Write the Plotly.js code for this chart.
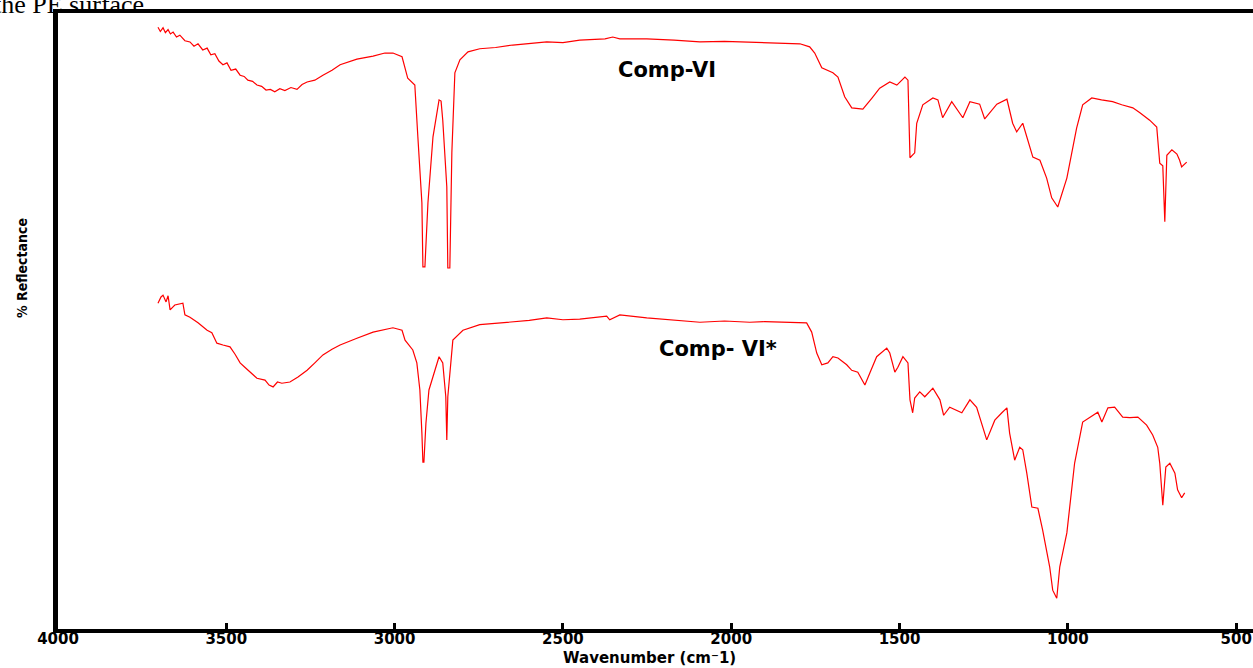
<!DOCTYPE html>
<html>
<head>
<meta charset="utf-8">
<script src="https://cdn.plot.ly/plotly-3.0.1.min.js"></script>
<style>html,body{margin:0;padding:0;background:#fff;}#chart{width:1253px;height:668px;}</style>
</head>
<body>
<div id="chart"></div>
<script>
// Comp-VI (upper spectrum)
const wnCompVI = [3703,3696,3688,3681,3673,3666,3658,3648,3638,3623,3608,3596,3584,3570,3557,3546,3534,3522,3510,3498,3486,3472,3459,3447,3436,3422,3409,3395,3382,3369,3356,3341,3326,3308,3290,3275,3260,3237,3213,3186,3162,3112,3064,3029,3005,2978,2961,2940,2931,2919,2916,2910,2901,2886,2868,2862,2857,2845,2842,2836,2830,2821,2806,2782,2747,2700,2649,2600,2548,2500,2450,2375,2352,2331,2251,2170,2093,2020,1945,1900,1856,1796,1767,1752,1731,1698,1683,1663,1642,1609,1582,1559,1529,1508,1484,1475,1469,1455,1449,1431,1401,1386,1372,1345,1312,1291,1262,1247,1211,1181,1164,1152,1134,1104,1083,1063,1048,1030,1003,974,956,929,900,867,840,807,786,757,736,727,718,712,706,691,676,668,662,647];
const rCompVI = [97.7,97.0,97.6,96.8,97.3,96.6,96.9,96.1,96.4,95.5,95.3,94.6,95.0,94.0,94.3,93.2,93.4,92.2,91.6,91.9,90.7,90.9,89.9,89.7,89.1,88.9,88.3,88.1,87.5,87.6,87.2,87.7,87.4,87.9,87.6,88.4,88.8,89.1,89.9,90.7,91.6,92.5,93.0,93.5,93.5,92.9,89.4,88.3,79.9,69.2,58.8,58.8,69.2,79.9,85.9,85.7,82.6,71.8,58.6,58.6,77.3,90.3,92.4,93.7,94.2,94.4,94.8,95.0,95.3,95.2,95.6,95.8,96.1,95.8,95.8,95.6,95.3,95.4,95.3,95.2,95.1,95.0,94.5,93.5,91.1,90.3,89.6,86.4,84.6,84.4,86.2,87.8,88.8,88.3,89.6,89.1,76.5,77.3,82.1,85.1,86.2,85.9,83.0,85.6,83.0,85.6,85.2,82.8,85.2,86.0,82.1,80.7,82.1,76.6,76.1,73.2,70.0,68.5,73.2,81.3,85.1,86.2,85.9,85.6,85.1,84.6,83.8,82.6,81.5,75.6,75.2,66.1,76.9,77.8,77.1,76.1,75.0,75.8];

// Comp- VI* (lower spectrum)
const wnCompVIs = [3703,3694,3688,3679,3673,3667,3653,3629,3623,3608,3584,3557,3543,3528,3510,3489,3474,3459,3445,3430,3409,3385,3373,3361,3348,3335,3311,3287,3260,3237,3213,3186,3162,3112,3064,3005,2978,2969,2946,2934,2925,2919,2916,2913,2907,2898,2880,2868,2857,2848,2845,2842,2827,2797,2747,2700,2649,2600,2548,2500,2450,2370,2361,2331,2251,2170,2093,2020,1945,1900,1856,1776,1761,1746,1731,1713,1698,1683,1657,1642,1624,1603,1588,1568,1538,1529,1514,1505,1490,1475,1469,1461,1455,1440,1425,1401,1380,1369,1351,1315,1291,1271,1241,1217,1196,1181,1173,1158,1143,1134,1122,1107,1089,1075,1054,1045,1033,1024,1003,980,956,926,911,899,881,861,837,816,792,766,748,733,727,718,709,697,682,674,662,653];
const rCompVIs = [52.9,53.9,54.2,53.1,54.1,51.8,52.6,52.9,51.0,50.6,49.7,48.5,48.1,46.4,46.1,45.8,44.6,43.2,42.5,41.7,40.7,40.4,39.6,39.3,40.1,39.9,40.1,40.9,42.0,43.2,44.5,45.4,46.1,47.2,48.2,48.9,48.5,46.9,45.3,43.2,38.8,31.8,27.1,27.1,33.4,38.8,42.0,44.2,43.2,37.7,30.7,37.7,46.9,48.5,49.4,49.6,49.8,50.1,50.5,50.2,50.3,50.8,50.2,51.0,50.5,50.2,49.8,50.0,49.8,49.9,49.8,49.7,48.2,44.8,42.9,43.2,44.2,44.0,42.9,42.0,41.7,39.6,41.6,44.2,45.6,44.8,41.7,42.5,44.2,43.2,37.2,35.1,37.5,38.5,37.7,39.1,37.2,34.7,36.0,35.1,37.2,36.0,30.7,33.9,35.1,35.9,31.8,27.4,29.5,29.1,25.3,19.8,19.6,16.1,10.1,6.3,5.0,10.1,15.6,26.9,33.6,34.7,35.2,33.6,35.9,36.0,34.4,34.3,34.4,33.1,31.5,29.5,26.9,20.1,26.3,26.9,25.3,22.6,21.3,22.1];

const tickVals = [4000,3500,3000,2500,2000,1500,1000,500];
const tickText = ['4000','3500','3000','2500','2000','1500','1000','500'];
const seriesNames = ['Comp-VI','Comp- VI*'];

const lineStyle = {color:'#ff0000', width:1.2};
const traces = [
  {x: wnCompVI, y: rCompVI, name: seriesNames[0], type:'scatter', mode:'lines', line: lineStyle},
  {x: wnCompVIs, y: rCompVIs, name: seriesNames[1], type:'scatter', mode:'lines', line: lineStyle}
];

const boldSans = {family:'DejaVu Sans, Verdana, sans-serif', color:'#000', weight:'bold'};

const layout = {
  width:1253, height:668,
  margin:{l:58, r:0, t:13, b:39, pad:0},
  paper_bgcolor:'#fff', plot_bgcolor:'#fff',
  showlegend:false,
  xaxis:{
    range:[4000,450], autorange:false,
    showline:true, mirror:true, linecolor:'#000', linewidth:4,
    showgrid:false, zeroline:false,
    ticks:'inside', ticklen:6, tickwidth:3, tickcolor:'#000',
    tickmode:'array', tickvals:tickVals, ticktext:tickText,
    ticklabelstandoff:-7,
    tickfont:Object.assign({size:15}, boldSans)
  },
  yaxis:{
    range:[0,100], autorange:false,
    showline:true, mirror:false, linecolor:'#000', linewidth:5,
    showgrid:false, zeroline:false, showticklabels:false, ticks:''
  },
  annotations:[
    {text:'Comp-VI', xref:'x', yref:'y', x:2191, y:90.7, showarrow:false, xanchor:'center', yanchor:'middle', font:Object.assign({size:21}, boldSans)},
    {text:'Comp- VI*', xref:'x', yref:'y', x:2040, y:45.5, showarrow:false, xanchor:'center', yanchor:'middle', font:Object.assign({size:21}, boldSans)},
    {text:'Wavenumber (cm\u207B1)', xref:'x', yref:'paper', x:2242, y:-0.047, showarrow:false, xanchor:'center', yanchor:'middle', font:Object.assign({size:15}, boldSans)},
    {text:'% Reflectance', xref:'paper', yref:'paper', x:-0.0301, y:0.586, textangle:-90, showarrow:false, xanchor:'center', yanchor:'middle', font:{family:'Liberation Sans Narrow, DejaVu Sans Condensed, sans-serif', size:14, color:'#000', weight:'bold'}},
    {text:'the PE surface.', xref:'paper', yref:'paper', x:(153-58)/1195, y:1.013, showarrow:false, xanchor:'right', yanchor:'middle', font:{family:'Liberation Serif, Times New Roman, serif', size:26, color:'#000'}}
  ]
};

Plotly.newPlot('chart', traces, layout, {displayModeBar:false, staticPlot:true});
</script>
</body>
</html>
